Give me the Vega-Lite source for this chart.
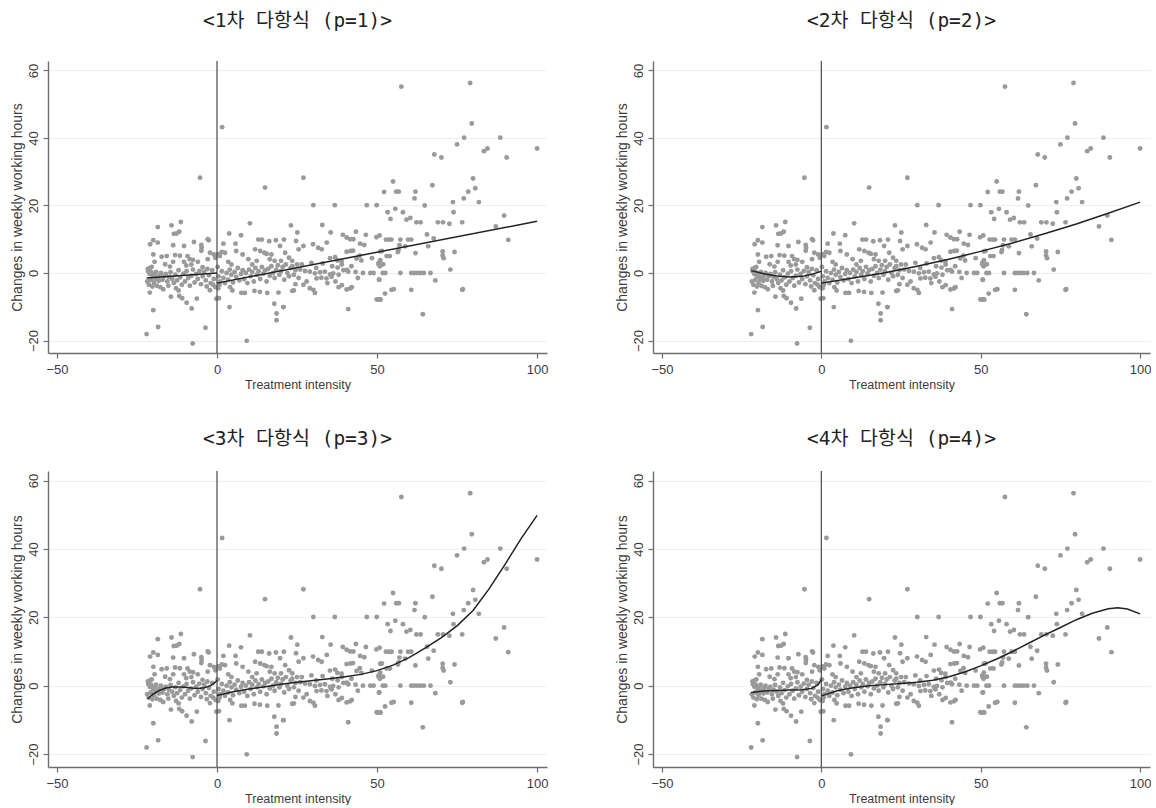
{
"$schema": "https://vega.github.io/schema/vega-lite/v6.json",
"background": "white",
"padding": {"left": 10, "top": 10, "right": 0, "bottom": 0},
"config": {
  "view": {"stroke": null},
  "font": "Liberation Sans",
  "axis": {"domainColor": "#6e6e6e", "domainWidth": 1.4, "tickColor": "#6e6e6e", "tickWidth": 1.2, "tickSize": 5, "labelColor": "#3c3c3c", "titleColor": "#3c3c3c", "labelFont": "Liberation Sans", "titleFont": "Liberation Sans", "labelFontSize": 13, "titleFontWeight": "normal", "gridColor": "#efefef", "gridWidth": 1},
  "axisX": {"titleFontSize": 12.5, "labelPadding": 5, "titlePadding": 2},
  "axisY": {"titleFontSize": 14, "labelPadding": 3, "titlePadding": 3},
  "title": {"font": "DejaVu Sans Mono, Noto Sans CJK KR", "fontSize": 19.5, "fontWeight": "normal", "color": "#222222", "anchor": "middle"}
},
"datasets": {
"pts": [
{"x":-22,"y":-18.1},{"x":-18.4,"y":-16},{"x":-19.9,"y":-11},{"x":-21,"y":-5.8},{"x":-14.4,"y":-7},{"x":-11.8,"y":-6.8},{"x":-10.9,"y":-7.5},{"x":-9.5,"y":-8.8},{"x":-7.9,"y":-10.5},{"x":-6.3,"y":-7.6},{"x":-2.2,"y":-5.1},{"x":-0.2,"y":-7.6},{"x":-3.6,"y":-16.2},{"x":-7.6,"y":-20.9},{"x":-5.3,"y":28.2},
{"x":-18.5,"y":13.6},{"x":-14.2,"y":14.1},{"x":-11.3,"y":15.1},{"x":-12.6,"y":11.7},{"x":-11.8,"y":12.2},{"x":-13.5,"y":11.6},{"x":-20.9,"y":8.5},{"x":-19.9,"y":9.7},{"x":-18.5,"y":9},{"x":-13.7,"y":8.2},{"x":-10.3,"y":8},{"x":-7.2,"y":9.2},{"x":-4.9,"y":8.3},{"x":-4.8,"y":7.5},{"x":-2.9,"y":10},{"x":-2.2,"y":6},
{"x":-19.9,"y":5.5},{"x":-17.3,"y":4.8},{"x":-15.7,"y":5},{"x":-13.1,"y":5.3},{"x":-11.6,"y":5.1},{"x":-9.2,"y":5},{"x":-8.5,"y":4.1},{"x":-7.5,"y":3.9},{"x":-2.9,"y":4.1},{"x":-19.5,"y":3.3},{"x":-13.7,"y":3.3},{"x":-10.3,"y":3.3},{"x":-6,"y":3.3},{"x":-20.9,"y":1.5},{"x":-14.7,"y":1.9},{"x":-9.6,"y":2.2},{"x":-4.5,"y":1.7},
{"x":-21.5,"y":0.5},{"x":-21,"y":-0.3},{"x":-20.5,"y":0.2},{"x":-20,"y":-1},{"x":-19.5,"y":-0.5},{"x":-19,"y":0.3},{"x":-18.5,"y":-1.5},{"x":-18,"y":-0.8},{"x":-17.5,"y":0},{"x":-17,"y":-2},{"x":-16.5,"y":-1},{"x":-16,"y":-0.3},{"x":-15.5,"y":-2.5},{"x":-15,"y":-1.2},{"x":-14.5,"y":0.2},{"x":-14,"y":-1.8},{"x":-13.5,"y":-3},{"x":-13,"y":-0.5},{"x":-12.5,"y":-2.2},{"x":-12,"y":0.8},{"x":-11.5,"y":-1.3},{"x":-11,"y":-3.5},{"x":-10.5,"y":-0.2},{"x":-10,"y":-2.5},{"x":-9.5,"y":0.5},{"x":-9,"y":-1.5},{"x":-8.5,"y":-3.8},{"x":-8,"y":-0.8},{"x":-7.5,"y":1},{"x":-7,"y":-2.8},{"x":-6.5,"y":-0.3},{"x":-6,"y":-1.8},{"x":-5.5,"y":0.6},{"x":-5,"y":-3.3},{"x":-4.5,"y":-1},{"x":-4,"y":0.3},{"x":-3.5,"y":-2.2},{"x":-3,"y":1.2},{"x":-2.5,"y":-0.7},{"x":-2,"y":-3},{"x":-1.5,"y":0.8},{"x":-1,"y":-1.8},{"x":-0.5,"y":-4.2},
{"x":-21.8,"y":-2.5},{"x":-21.3,"y":-3.5},{"x":-20.7,"y":-2},{"x":-20.2,"y":-4},{"x":-19.7,"y":-2.8},{"x":-18.8,"y":-3.8},{"x":-18.2,"y":-2.3},{"x":-17.7,"y":-4.2},{"x":-21.6,"y":1.2},{"x":-20.4,"y":1.8},{"x":-19.2,"y":-1.8},{"x":-16.8,"y":-4.8},{"x":-15.2,"y":-3.8},{"x":-12.8,"y":-4.5},{"x":-3.2,"y":-4},{"x":-1.2,"y":-3.5},{"x":-1,"y":5.5},{"x":-0.5,"y":4.5},{"x":-2.6,"y":9.7},{"x":-4.9,"y":6.6},{"x":-16.2,"y":2.6},{"x":-8,"y":2.5},{"x":-12,"y":-5.2},
{"x":1.6,"y":43.2},{"x":9.3,"y":-20.1},{"x":15,"y":25.3},{"x":10.3,"y":14.7},{"x":3.8,"y":11.7},{"x":7.5,"y":11.2},{"x":23.1,"y":14.1},{"x":25.1,"y":12},{"x":2,"y":8.7},{"x":5.8,"y":8.7},{"x":12.9,"y":9.9},{"x":14,"y":9.9},{"x":16.3,"y":9.4},{"x":18.4,"y":9.7},{"x":20.9,"y":9.9},{"x":24.7,"y":9.5},{"x":11.9,"y":7},{"x":14.8,"y":6},{"x":15.5,"y":5.7},{"x":19.7,"y":8},{"x":21.3,"y":6},{"x":25.5,"y":7},{"x":9.8,"y":4.1},{"x":12.4,"y":3.6},{"x":3.5,"y":3.3},{"x":2.5,"y":6},{"x":0.9,"y":5},{"x":0.4,"y":5.6},{"x":16.5,"y":4.1},{"x":18,"y":3.6},{"x":20,"y":3.6},{"x":23.5,"y":3.6},
{"x":4.1,"y":-4.2},{"x":4.8,"y":-5.2},{"x":7.6,"y":-5.9},{"x":8.7,"y":-5.9},{"x":11.7,"y":-5.3},{"x":13.4,"y":-5.6},{"x":15.7,"y":-5.9},{"x":19.2,"y":-5.8},{"x":23.5,"y":-5.3},{"x":24.5,"y":-3.3},{"x":17.9,"y":-9.1},{"x":20.7,"y":-10.1},{"x":18.6,"y":-12},{"x":18.6,"y":-14},{"x":3.9,"y":-10.1},{"x":0.4,"y":-4.5},{"x":0.6,"y":-7.5},
{"x":0.5,"y":-1},{"x":1,"y":-2.5},{"x":1.5,"y":0.5},{"x":2,"y":-1.5},{"x":2.5,"y":-3},{"x":3,"y":0},{"x":3.5,"y":-2},{"x":4,"y":1},{"x":4.5,"y":-0.5},{"x":5,"y":-2.8},{"x":5.5,"y":0.3},{"x":6,"y":-1.2},{"x":6.5,"y":1.5},{"x":7,"y":-2.2},{"x":7.5,"y":-0.3},{"x":8,"y":0.8},{"x":8.5,"y":-1.8},{"x":9,"y":0},{"x":9.5,"y":-3},{"x":10,"y":1},{"x":10.5,"y":-1},{"x":11,"y":0.3},{"x":11.5,"y":-2.5},{"x":12,"y":1.5},{"x":12.5,"y":-0.5},{"x":13,"y":0.5},{"x":13.5,"y":-1.8},{"x":14,"y":1.8},{"x":14.5,"y":-0.2},{"x":15,"y":0.8},{"x":15.5,"y":-2.5},{"x":16,"y":1.2},{"x":16.5,"y":-0.8},{"x":17,"y":2},{"x":17.5,"y":0},{"x":18,"y":-1.5},{"x":18.5,"y":1},{"x":19,"y":2.3},{"x":19.5,"y":-0.5},{"x":20,"y":0.5},{"x":20.5,"y":1.8},{"x":21,"y":-2},{"x":21.5,"y":2.5},{"x":22,"y":0},{"x":22.5,"y":-1},{"x":23,"y":1.5},{"x":23.5,"y":2},{"x":24,"y":-0.5},{"x":24.5,"y":0.8},{"x":25,"y":2.5},{"x":25.5,"y":-1.5},{"x":26,"y":1},
{"x":1.5,"y":6.2},{"x":6,"y":6.5},{"x":8,"y":5.5},{"x":11,"y":2.5},{"x":13.5,"y":6.5},{"x":17,"y":5.5},{"x":22.5,"y":4.5},{"x":4.5,"y":2.5},{"x":0.2,"y":1.8},{"x":0.8,"y":-3.5},
{"x":27,"y":28.2},{"x":30.1,"y":20.1},{"x":36.8,"y":20.1},{"x":46.8,"y":20.1},{"x":49.9,"y":20.1},{"x":52.2,"y":24},{"x":32.9,"y":14.2},{"x":35.5,"y":12},{"x":39.3,"y":11.3},{"x":40.5,"y":10.5},{"x":41.6,"y":10},{"x":42.6,"y":10},{"x":43.4,"y":12.2},{"x":46.5,"y":11.3},{"x":44.7,"y":8.7},{"x":46,"y":8.3},{"x":27,"y":8},{"x":30,"y":8.5},{"x":31.6,"y":7.5},{"x":32.7,"y":7},{"x":34.3,"y":9},{"x":35.3,"y":4.4},{"x":36.9,"y":4.7},{"x":37.6,"y":3.7},{"x":38.9,"y":3.5},{"x":40.5,"y":6.3},{"x":41.7,"y":6.5},{"x":42.5,"y":6.6},{"x":43.6,"y":4.3},{"x":44.6,"y":5.1},{"x":45.1,"y":3.7},{"x":48.4,"y":4.4},{"x":50.5,"y":2.6},{"x":50.9,"y":2},{"x":51.9,"y":2.6},{"x":49.8,"y":10.6},{"x":50.8,"y":11.1},{"x":51.5,"y":6.5},
{"x":27.5,"y":0.6},{"x":29,"y":0.4},{"x":30.6,"y":-0.1},{"x":32.2,"y":0.2},{"x":33.7,"y":0.4},{"x":35.3,"y":-0.4},{"x":36.3,"y":-0.1},{"x":31.1,"y":-1.6},{"x":32.6,"y":-1.4},{"x":34.2,"y":-1.6},{"x":35.8,"y":-1.1},{"x":38,"y":-0.5},{"x":39.5,"y":0.8},{"x":41,"y":0.4},{"x":43.3,"y":0.3},{"x":45.6,"y":0},{"x":47.9,"y":0},{"x":48.9,"y":0},{"x":37.7,"y":1.6},{"x":40.6,"y":0.9},
{"x":26.5,"y":2.5},{"x":28,"y":-2.5},{"x":29.5,"y":3},{"x":31,"y":1.5},{"x":33,"y":2.8},{"x":34.5,"y":-3},{"x":36,"y":2},{"x":37,"y":-2.5},{"x":39,"y":2.5},{"x":42,"y":2},{"x":44,"y":-1.5},{"x":27,"y":-3.5},{"x":29,"y":-4.5},
{"x":30.1,"y":-5},{"x":30.6,"y":-5.9},{"x":38,"y":-4.2},{"x":39,"y":-3.6},{"x":40.5,"y":-4.9},{"x":41.6,"y":-4.6},{"x":42.1,"y":-4.2},{"x":50.6,"y":-2},{"x":49.9,"y":-7.8},{"x":50.9,"y":-7.8},{"x":52.5,"y":-6.1},{"x":41,"y":-10.7},{"x":20.8,"y":-10.1},{"x":24,"y":-5.2},{"x":54.5,"y":-5},{"x":60.7,"y":-5},{"x":76.6,"y":-5},{"x":64.3,"y":-12.2},
{"x":57.6,"y":55.2},{"x":79.1,"y":56.3},{"x":79.6,"y":44.3},{"x":77.2,"y":40.1},{"x":75,"y":38.1},{"x":88.5,"y":40.1},{"x":83.4,"y":36.1},{"x":84.5,"y":36.9},{"x":90.5,"y":34.2},{"x":100,"y":36.9},{"x":67.9,"y":35.1},{"x":70.1,"y":34.2},{"x":67.3,"y":26},{"x":80,"y":28},{"x":80.7,"y":25.1},{"x":78.5,"y":24.1},{"x":77.1,"y":22.1},{"x":81.8,"y":21},{"x":73.7,"y":21},{"x":73.9,"y":18},{"x":76.6,"y":15},{"x":89.7,"y":17},{"x":87.1,"y":13.8},{"x":91,"y":9.8},
{"x":55,"y":27.1},{"x":56,"y":24.1},{"x":56.8,"y":24.1},{"x":62,"y":24.1},{"x":61.7,"y":22.1},{"x":64.9,"y":20},{"x":53.3,"y":18},{"x":55.7,"y":19},{"x":58.1,"y":18},{"x":54.2,"y":16},{"x":59.2,"y":15.8},{"x":60.4,"y":16.3},{"x":62.3,"y":15},{"x":63.6,"y":15},{"x":69,"y":15},{"x":70.6,"y":15},{"x":72.6,"y":14.6},{"x":65.6,"y":11.4},{"x":67.7,"y":10.2},{"x":66,"y":7.9},
{"x":52.8,"y":9.9},{"x":53.7,"y":9.9},{"x":54.5,"y":9.9},{"x":57.3,"y":9.9},{"x":59.7,"y":9.9},{"x":60.7,"y":9.9},{"x":57,"y":8.2},{"x":58.8,"y":7.9},{"x":62,"y":5.9},{"x":51,"y":6.4},{"x":53,"y":5},{"x":54,"y":5},{"x":56.5,"y":6.2},{"x":56.7,"y":6.8},{"x":70.5,"y":6.4},{"x":70.5,"y":5.2},{"x":70.8,"y":4.4},{"x":74.2,"y":6.2},{"x":72.9,"y":1},
{"x":66.7,"y":0},{"x":68.2,"y":-2.2},{"x":57.3,"y":0},{"x":60.7,"y":0},{"x":61.6,"y":0},{"x":62.5,"y":0},{"x":63.5,"y":0},{"x":64.6,"y":0},{"x":51.8,"y":0},{"x":52.6,"y":0},{"x":50.5,"y":3},{"x":51,"y":3.8},{"x":50.7,"y":-2},{"x":50.2,"y":-7.9},{"x":51.1,"y":-7.9},{"x":55.2,"y":-4.8},{"x":76.8,"y":-4.8}
],
"fit": [
{"p":1,"side":"L","x":-22,"y":-1.5},{"p":1,"side":"L","x":0,"y":0},
{"p":1,"side":"R","x":0,"y":-3},{"p":1,"side":"R","x":100,"y":15.3},
{"p":2,"side":"L","x":-22,"y":0.7},{"p":2,"side":"L","x":-18,"y":-0.2},{"p":2,"side":"L","x":-14,"y":-0.9},{"p":2,"side":"L","x":-10,"y":-1.2},{"p":2,"side":"L","x":-6,"y":-1},{"p":2,"side":"L","x":-3,"y":-0.4},{"p":2,"side":"L","x":0,"y":0.5},
{"p":2,"side":"R","x":0,"y":-3},{"p":2,"side":"R","x":10,"y":-1.5},{"p":2,"side":"R","x":20,"y":0.1},{"p":2,"side":"R","x":30,"y":2},{"p":2,"side":"R","x":40,"y":4.1},{"p":2,"side":"R","x":50,"y":6.4},{"p":2,"side":"R","x":60,"y":8.9},{"p":2,"side":"R","x":70,"y":11.6},{"p":2,"side":"R","x":80,"y":14.5},{"p":2,"side":"R","x":90,"y":17.7},{"p":2,"side":"R","x":100,"y":21},
{"p":3,"side":"L","x":-21.7,"y":-3.9},{"p":3,"side":"L","x":-20,"y":-2.5},{"p":3,"side":"L","x":-18,"y":-1.4},{"p":3,"side":"L","x":-16,"y":-0.7},{"p":3,"side":"L","x":-14,"y":-0.4},{"p":3,"side":"L","x":-12,"y":-0.4},{"p":3,"side":"L","x":-10,"y":-0.5},{"p":3,"side":"L","x":-8,"y":-0.7},{"p":3,"side":"L","x":-6,"y":-0.8},{"p":3,"side":"L","x":-4,"y":-0.6},{"p":3,"side":"L","x":-2,"y":0},{"p":3,"side":"L","x":-1,"y":0.6},{"p":3,"side":"L","x":0,"y":1.5},
{"p":3,"side":"R","x":0,"y":-2.9},{"p":3,"side":"R","x":5,"y":-1.8},{"p":3,"side":"R","x":10,"y":-1},{"p":3,"side":"R","x":15,"y":-0.3},{"p":3,"side":"R","x":20,"y":0.4},{"p":3,"side":"R","x":25,"y":1},{"p":3,"side":"R","x":30,"y":1.5},{"p":3,"side":"R","x":35,"y":2},{"p":3,"side":"R","x":40,"y":2.6},{"p":3,"side":"R","x":45,"y":3.3},{"p":3,"side":"R","x":50,"y":4.4},{"p":3,"side":"R","x":55,"y":6},{"p":3,"side":"R","x":60,"y":8.2},{"p":3,"side":"R","x":65,"y":11},{"p":3,"side":"R","x":70,"y":14},{"p":3,"side":"R","x":75,"y":17.5},{"p":3,"side":"R","x":80,"y":22},{"p":3,"side":"R","x":85,"y":28.3},{"p":3,"side":"R","x":90,"y":35.5},{"p":3,"side":"R","x":95,"y":43},{"p":3,"side":"R","x":100,"y":49.8},
{"p":4,"side":"L","x":-22,"y":-2},{"p":4,"side":"L","x":-18,"y":-1.6},{"p":4,"side":"L","x":-14,"y":-1.4},{"p":4,"side":"L","x":-10,"y":-1.3},{"p":4,"side":"L","x":-6,"y":-1.2},{"p":4,"side":"L","x":-3,"y":-0.8},{"p":4,"side":"L","x":-1,"y":0.3},{"p":4,"side":"L","x":0,"y":1.8},
{"p":4,"side":"R","x":0,"y":-3},{"p":4,"side":"R","x":5,"y":-1.5},{"p":4,"side":"R","x":10,"y":-0.6},{"p":4,"side":"R","x":15,"y":0},{"p":4,"side":"R","x":20,"y":0.3},{"p":4,"side":"R","x":25,"y":0.6},{"p":4,"side":"R","x":30,"y":1},{"p":4,"side":"R","x":35,"y":1.6},{"p":4,"side":"R","x":40,"y":2.6},{"p":4,"side":"R","x":45,"y":4},{"p":4,"side":"R","x":50,"y":5.8},{"p":4,"side":"R","x":55,"y":7.8},{"p":4,"side":"R","x":60,"y":10},{"p":4,"side":"R","x":65,"y":12.4},{"p":4,"side":"R","x":70,"y":14.8},{"p":4,"side":"R","x":75,"y":17},{"p":4,"side":"R","x":80,"y":19.3},{"p":4,"side":"R","x":85,"y":21.2},{"p":4,"side":"R","x":90,"y":22.5},{"p":4,"side":"R","x":93,"y":22.8},{"p":4,"side":"R","x":96,"y":22.4},{"p":4,"side":"R","x":100,"y":21}
]
},
"vconcat": [
{"hconcat": [
{"width": 499, "height": 292, "title": {"text": "<1차 다항식 (p=1)>", "offset": 29},
 "layer": [
  {"data": {"name": "pts"}, "mark": {"type": "circle", "size": 24, "color": "#9a9a9a", "opacity": 1},
   "encoding": {"x": {"field": "x", "type": "quantitative", "scale": {"domain": [-52.8, 103.1], "nice": false, "zero": false}, "axis": {"values": [-50, 0, 50, 100], "grid": false, "title": "Treatment intensity"}},
                "y": {"field": "y", "type": "quantitative", "scale": {"domain": [-23.7, 62.8], "nice": false, "zero": false}, "axis": {"values": [-20, 0, 20, 40, 60], "grid": true, "title": "Changes in weekly working hours", "labelAngle": -90, "labelAlign": "center", "labelBaseline": "bottom"}}}},
  {"data": {"values": [{}]}, "mark": {"type": "rule", "color": "#4a4a4a", "strokeWidth": 1.2}, "encoding": {"x": {"datum": 0}}},
  {"data": {"name": "fit"}, "transform": [{"filter": "datum.p == 1"}], "mark": {"type": "line", "color": "#222222", "strokeWidth": 1.5}, "encoding": {"x": {"field": "x", "type": "quantitative"}, "y": {"field": "y", "type": "quantitative"}, "detail": {"field": "side"}, "order": {"field": "x"}}}
 ]},
{"width": 497, "height": 292, "title": {"text": "<2차 다항식 (p=2)>", "offset": 29},
 "layer": [
  {"data": {"name": "pts"}, "mark": {"type": "circle", "size": 24, "color": "#9a9a9a", "opacity": 1},
   "encoding": {"x": {"field": "x", "type": "quantitative", "scale": {"domain": [-52.8, 103.1], "nice": false, "zero": false}, "axis": {"values": [-50, 0, 50, 100], "grid": false, "title": "Treatment intensity"}},
                "y": {"field": "y", "type": "quantitative", "scale": {"domain": [-23.7, 62.8], "nice": false, "zero": false}, "axis": {"values": [-20, 0, 20, 40, 60], "grid": true, "title": "Changes in weekly working hours", "labelAngle": -90, "labelAlign": "center", "labelBaseline": "bottom"}}}},
  {"data": {"values": [{}]}, "mark": {"type": "rule", "color": "#4a4a4a", "strokeWidth": 1.2}, "encoding": {"x": {"datum": 0}}},
  {"data": {"name": "fit"}, "transform": [{"filter": "datum.p == 2"}], "mark": {"type": "line", "color": "#222222", "strokeWidth": 1.5}, "encoding": {"x": {"field": "x", "type": "quantitative"}, "y": {"field": "y", "type": "quantitative"}, "detail": {"field": "side"}, "order": {"field": "x"}}}
 ]}
], "spacing": 67},
{"hconcat": [
{"width": 499, "height": 296, "title": {"text": "<3차 다항식 (p=3)>", "offset": 21},
 "layer": [
  {"data": {"name": "pts"}, "mark": {"type": "circle", "size": 24, "color": "#9a9a9a", "opacity": 1},
   "encoding": {"x": {"field": "x", "type": "quantitative", "scale": {"domain": [-52.8, 103.1], "nice": false, "zero": false}, "axis": {"values": [-50, 0, 50, 100], "grid": false, "title": "Treatment intensity"}},
                "y": {"field": "y", "type": "quantitative", "scale": {"domain": [-23.8, 62.8], "nice": false, "zero": false}, "axis": {"values": [-20, 0, 20, 40, 60], "grid": true, "title": "Changes in weekly working hours", "labelAngle": -90, "labelAlign": "center", "labelBaseline": "bottom"}}}},
  {"data": {"values": [{}]}, "mark": {"type": "rule", "color": "#4a4a4a", "strokeWidth": 1.2}, "encoding": {"x": {"datum": 0}}},
  {"data": {"name": "fit"}, "transform": [{"filter": "datum.p == 3"}], "mark": {"type": "line", "color": "#222222", "strokeWidth": 1.5}, "encoding": {"x": {"field": "x", "type": "quantitative"}, "y": {"field": "y", "type": "quantitative"}, "detail": {"field": "side"}, "order": {"field": "x"}}}
 ]},
{"width": 497, "height": 296, "title": {"text": "<4차 다항식 (p=4)>", "offset": 21},
 "layer": [
  {"data": {"name": "pts"}, "mark": {"type": "circle", "size": 24, "color": "#9a9a9a", "opacity": 1},
   "encoding": {"x": {"field": "x", "type": "quantitative", "scale": {"domain": [-52.8, 103.1], "nice": false, "zero": false}, "axis": {"values": [-50, 0, 50, 100], "grid": false, "title": "Treatment intensity"}},
                "y": {"field": "y", "type": "quantitative", "scale": {"domain": [-23.8, 62.8], "nice": false, "zero": false}, "axis": {"values": [-20, 0, 20, 40, 60], "grid": true, "title": "Changes in weekly working hours", "labelAngle": -90, "labelAlign": "center", "labelBaseline": "bottom"}}}},
  {"data": {"values": [{}]}, "mark": {"type": "rule", "color": "#4a4a4a", "strokeWidth": 1.2}, "encoding": {"x": {"datum": 0}}},
  {"data": {"name": "fit"}, "transform": [{"filter": "datum.p == 4"}], "mark": {"type": "line", "color": "#222222", "strokeWidth": 1.5}, "encoding": {"x": {"field": "x", "type": "quantitative"}, "y": {"field": "y", "type": "quantitative"}, "detail": {"field": "side"}, "order": {"field": "x"}}}
 ]}
], "spacing": 67}
], "spacing": 37
}
